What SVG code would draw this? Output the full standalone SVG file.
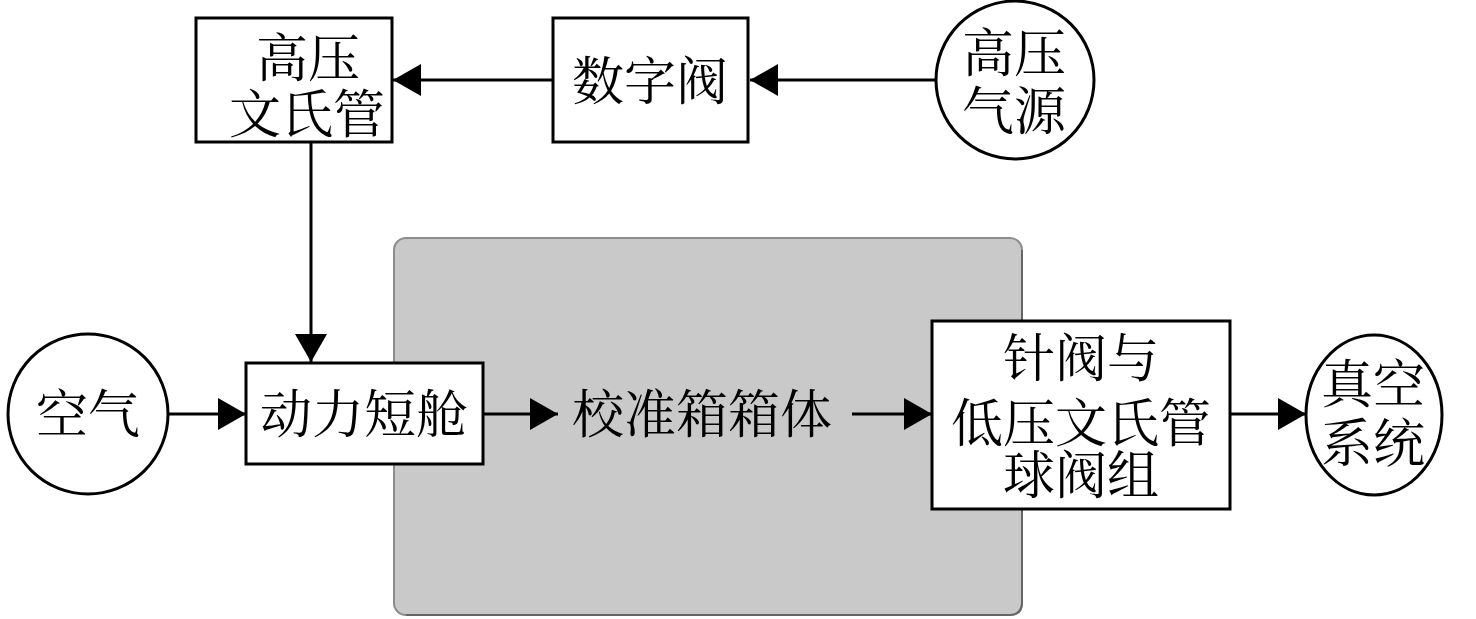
<svg xmlns="http://www.w3.org/2000/svg" width="1476" height="619" viewBox="0 0 1476 619">
<style>
.box{fill:#fff;stroke:#000;stroke-width:3}
.t{font-family:"Noto Serif CJK SC","Noto Sans CJK SC",serif;font-size:52px;fill:#000;text-anchor:middle}
.c{fill:none;stroke:#000;stroke-width:3}
</style>
<defs>
<marker id="ah" markerUnits="userSpaceOnUse" markerWidth="30" markerHeight="34" refX="28" refY="16" orient="auto">
<path d="M0,0 L28,16 L0,32 z" fill="#000"/>
</marker>
</defs>
<g id="chamber">
<rect x="394" y="238" width="628" height="377" rx="12" fill="#c9c9c9" stroke="#8c8c8c" stroke-width="2"/>
<path d="M1022,250 L1022,603 Q1022,615 1010,615 L406,615" fill="none" stroke="#666" stroke-width="2"/>
<text class="t" x="702" y="433" font-size="54">校准箱箱体</text>
</g>
<g id="hp-venturi">
<rect class="box" x="196" y="18" width="196" height="124"/>
<text class="t" x="308" y="77">高压</text>
<text class="t" x="307" y="133">文氏管</text>
</g>
<g id="digital-valve">
<rect class="box" x="553" y="18" width="195" height="124"/>
<text class="t" x="650" y="100">数字阀</text>
</g>
<g id="hp-source">
<circle cx="1015" cy="80" r="79" fill="#fff" stroke="#000" stroke-width="3"/>
<text class="t" x="1014" y="72">高压</text>
<text class="t" x="1014" y="130">气源</text>
</g>
<g id="air">
<circle cx="88" cy="414" r="80" fill="#fff" stroke="#000" stroke-width="3"/>
<text class="t" x="88" y="433">空气</text>
</g>
<g id="nacelle">
<rect class="box" x="246" y="363" width="237" height="101"/>
<text class="t" x="364" y="433" font-size="54">动力短舱</text>
</g>
<g id="valves">
<rect class="box" x="932" y="321" width="298" height="188"/>
<text class="t" x="1081" y="377" font-size="54">针阀与</text>
<text class="t" x="1081" y="442" font-size="54">低压文氏管</text>
<text class="t" x="1081" y="494" font-size="54">球阀组</text>
</g>
<g id="vacuum">
<ellipse cx="1374" cy="415" rx="68" ry="80" fill="#fff" stroke="#000" stroke-width="3"/>
<text class="t" x="1373" y="403">真空</text>
<text class="t" x="1373" y="462">系统</text>
</g>
<g id="connectors">
<path class="c" d="M935,80 L750,80" marker-end="url(#ah)"/>
<path class="c" d="M553,80 L393,80" marker-end="url(#ah)"/>
<path class="c" d="M311,142 L311,362" marker-end="url(#ah)"/>
<path class="c" d="M168,414 L246,414" marker-end="url(#ah)"/>
<path class="c" d="M483,414 L558,414" marker-end="url(#ah)"/>
<path class="c" d="M852,414 L932,414" marker-end="url(#ah)"/>
<path class="c" d="M1230,414 L1306,414" marker-end="url(#ah)"/>
</g>
</svg>
